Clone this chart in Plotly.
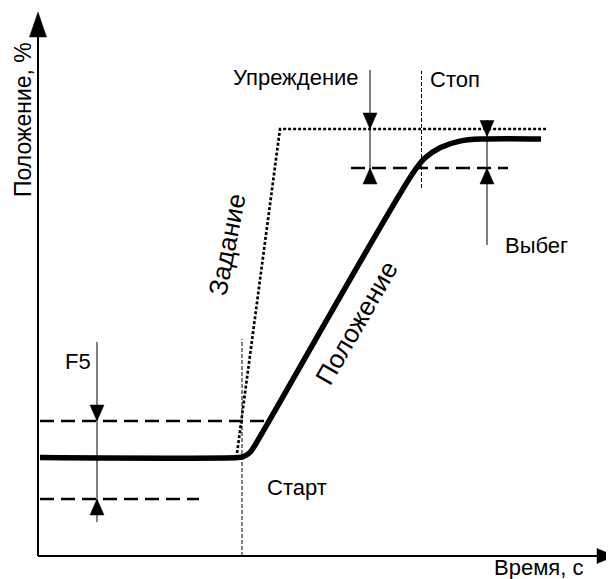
import plotly.graph_objects as go

# ---- diagram data (time units horizontally, position units vertically; origin at axes corner) ----
# Actual position curve ("Положение")
pos_t = [2, 200, 204.8, 209, 212.8, 216, 375, 386.9, 402.5, 421.9, 445, 503]
pos_p = [98.5, 98.5, 99.2, 101.2, 104.5, 109.2, 383, 397.9, 408.5, 414.9, 417, 417]

# Setpoint ("Задание")
set_t = [198.4, 242, 508]
set_p = [98, 427, 427]

# Levels
initial_level = 98.5
f5_upper = 135
f5_lower = 57
setpoint_level = 427
stop_level = 388
final_level = 417

# Event times
t_start = 204
t_stop = 383.5

# Horizontal dashed guides: (t_from, t_to, level)
guides = [(2, 232, f5_upper), (2, 161, f5_lower), (313, 470, stop_level)]

# Dimension arrows: (t, line_from, line_to, down_tip, up_tip)
dims = [
    (59, 34, 214, f5_upper, f5_lower),
    (332, 374, 486, setpoint_level, stop_level),
    (449, 311, 436, final_level + 2.5, stop_level),
]

# Axis extents
y_axis_top = 544
x_axis_right = 577

# Text labels
labels = [
    dict(text="Упреждение", t=323, p=479, xa="right", ang=0, size=22),
    dict(text="Стоп", t=390, p=477, xa="left", ang=0, size=22),
    dict(text="Выбег", t=465, p=310.5, xa="left", ang=0, size=22),
    dict(text="F5", t=25, p=195, xa="left", ang=0, size=22),
    dict(text="Старт", t=227, p=69, xa="left", ang=0, size=22),
    dict(text="Время, с", t=454, p=-11.5, xa="left", ang=0, size=22),
    dict(text="Положение, %", t=-15, p=436, xa="center", ang=-90, size=23),
    dict(text="Задание", t=189, p=311, xa="center", ang=-79, size=26),
    dict(text="Положение", t=318.5, p=233, xa="center", ang=-60, size=26),
]

FONT = "Liberation Sans, Arial, sans-serif"
BLACK = "#000000"

fig = go.Figure()


def line(xs, ys, width, dash="solid", shape="linear"):
    fig.add_trace(go.Scatter(x=xs, y=ys, mode="lines",
                             line=dict(color=BLACK, width=width, dash=dash, shape=shape),
                             hoverinfo="skip"))


def tri(xs, ys):
    fig.add_trace(go.Scatter(x=xs, y=ys, mode="lines", fill="toself",
                             fillcolor=BLACK, line=dict(color=BLACK, width=0.5),
                             hoverinfo="skip"))


# Axes with arrowheads
head_w_y, head_l_y = 8.5, 25
head_w_x, head_l_x = 7.5, 18
line([0, 0], [0, y_axis_top - head_l_y + 2], 2)
line([0, x_axis_right - head_l_x + 2], [0, 0], 2)
tri([-head_w_y, 0, head_w_y, -head_w_y],
    [y_axis_top - head_l_y, y_axis_top, y_axis_top - head_l_y, y_axis_top - head_l_y])
tri([x_axis_right - head_l_x, x_axis_right, x_axis_right - head_l_x, x_axis_right - head_l_x],
    [head_w_x, 0, -head_w_x, head_w_x])

# Thin dashed event lines
line([t_start, t_start], [0, 217], 1, "4px,2px")
line([t_stop, t_stop], [368, 485], 1, "4px,2px")

# Horizontal dashed guides
for a, b, lv in guides:
    line([a, b], [lv, lv], 2.5, "14px,7px")

# Setpoint dotted
line(set_t, set_p, 2.7, "3px,2px")

# Position thick curve (smoothed by plotly's spline)
line(pos_t, pos_p, 5.5, shape="spline")

# Dimension arrows
ah_w, ah_l = 7, 16
for t, a, b, dn, up in dims:
    line([t, t], [a, b], 1)
    tri([t - ah_w, t, t + ah_w, t - ah_w], [dn + ah_l, dn, dn + ah_l, dn + ah_l])
    tri([t - ah_w, t, t + ah_w, t - ah_w], [up - ah_l, up, up - ah_l, up - ah_l])

for lb in labels:
    fig.add_annotation(x=lb["t"], y=lb["p"], text=lb["text"], showarrow=False,
                       xanchor=lb["xa"], yanchor="middle", textangle=lb["ang"],
                       font=dict(family=FONT, size=lb["size"], color=BLACK))

# The page body adds an 8px margin, so the figure covers window pixels 8..614 x 8..579
fig.update_layout(
    width=606, height=571,
    margin=dict(l=0, r=0, t=0, b=0),
    paper_bgcolor="white", plot_bgcolor="white",
    showlegend=False,
    xaxis=dict(range=[-30, 576], visible=False, fixedrange=True),
    yaxis=dict(range=[-23, 548], visible=False, fixedrange=True),
)

fig.write_html("out.html")
